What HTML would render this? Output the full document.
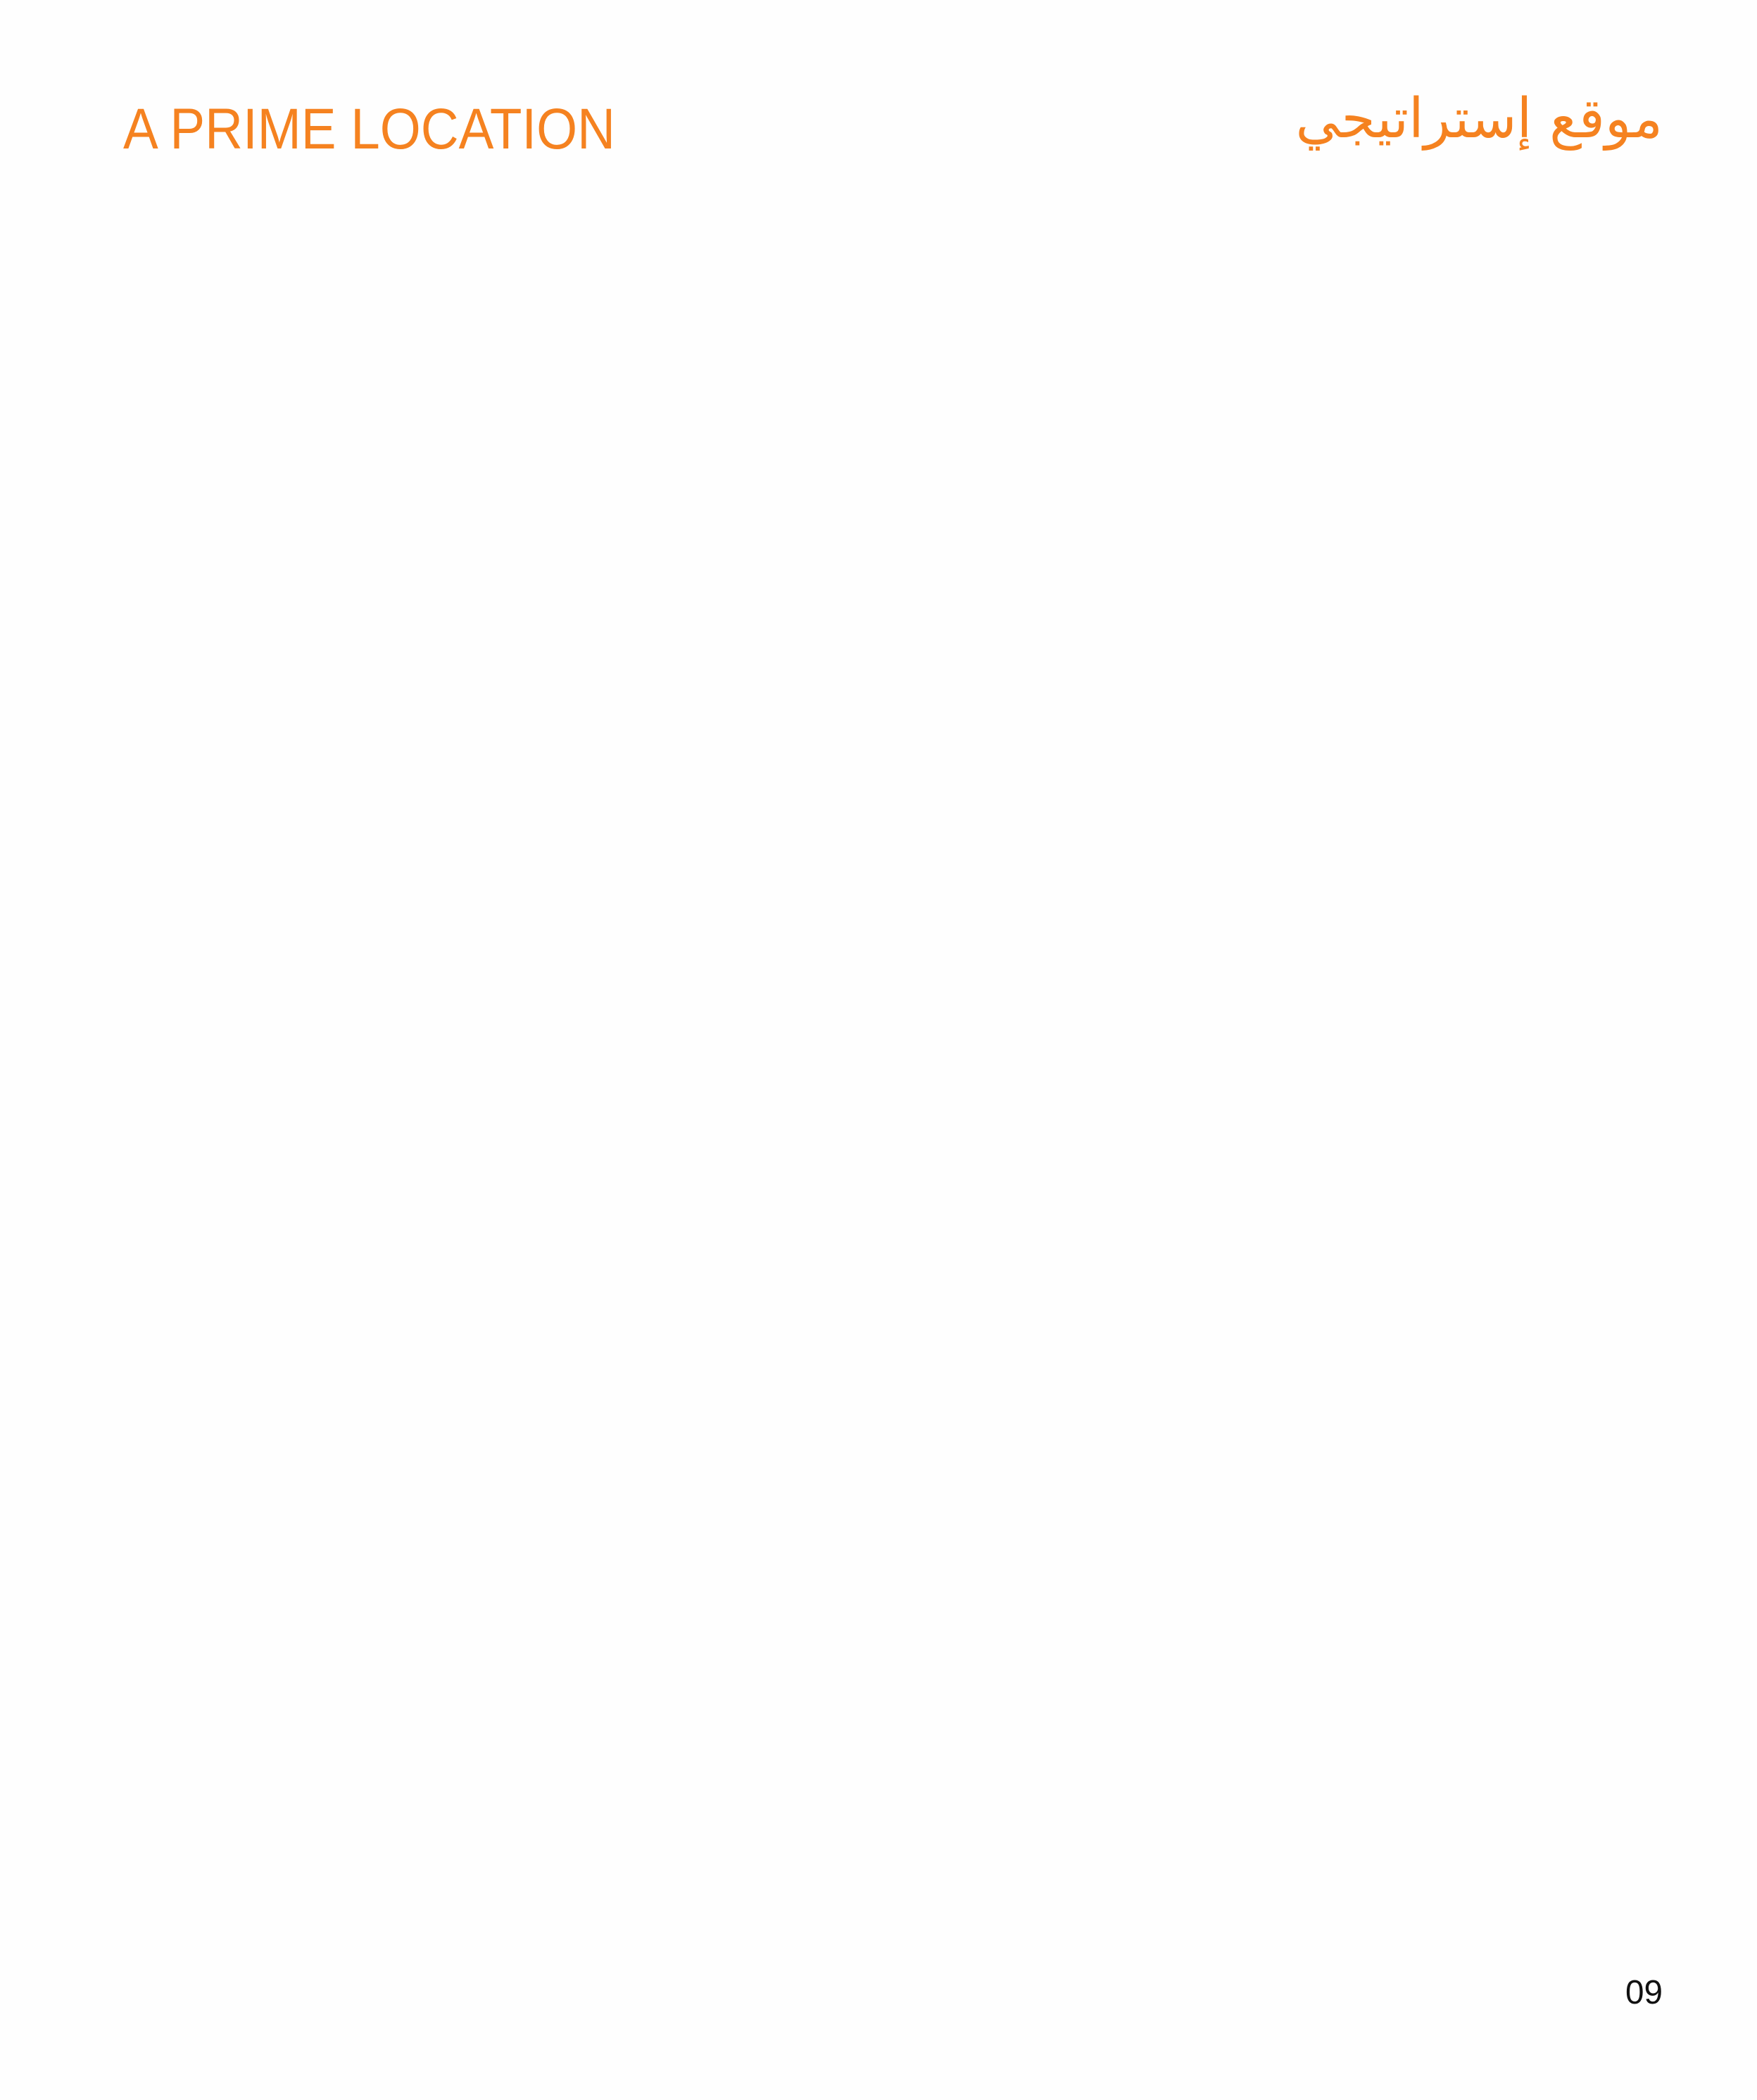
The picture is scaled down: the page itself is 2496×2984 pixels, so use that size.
<!DOCTYPE html>
<html><head><meta charset="utf-8"><style>
html,body{margin:0;padding:0;background:#fefefe;}
body{position:relative;width:2496px;height:2984px;overflow:hidden;}
svg{display:block;position:absolute;left:0;top:0;}
#ar{position:absolute;right:134px;top:114px;font-family:"DejaVu Sans","Noto Sans CJK SC",sans-serif;font-size:78px;line-height:110px;color:#f58220;direction:rtl;white-space:nowrap;}
</style></head><body>
<svg width="2496" height="2984" viewBox="0 0 2496 2984" xmlns="http://www.w3.org/2000/svg">
<text x="175" y="211" font-family="Liberation Sans, sans-serif" font-size="82" fill="#f58220" textLength="699" lengthAdjust="spacingAndGlyphs">A PRIME LOCATION</text>
<text x="2309" y="2847" font-family="Liberation Sans, sans-serif" font-size="48" fill="#111" textLength="53" lengthAdjust="spacingAndGlyphs">09</text>
</svg>
<div id="ar">موقع إستراتيجي</div>
</body></html>
